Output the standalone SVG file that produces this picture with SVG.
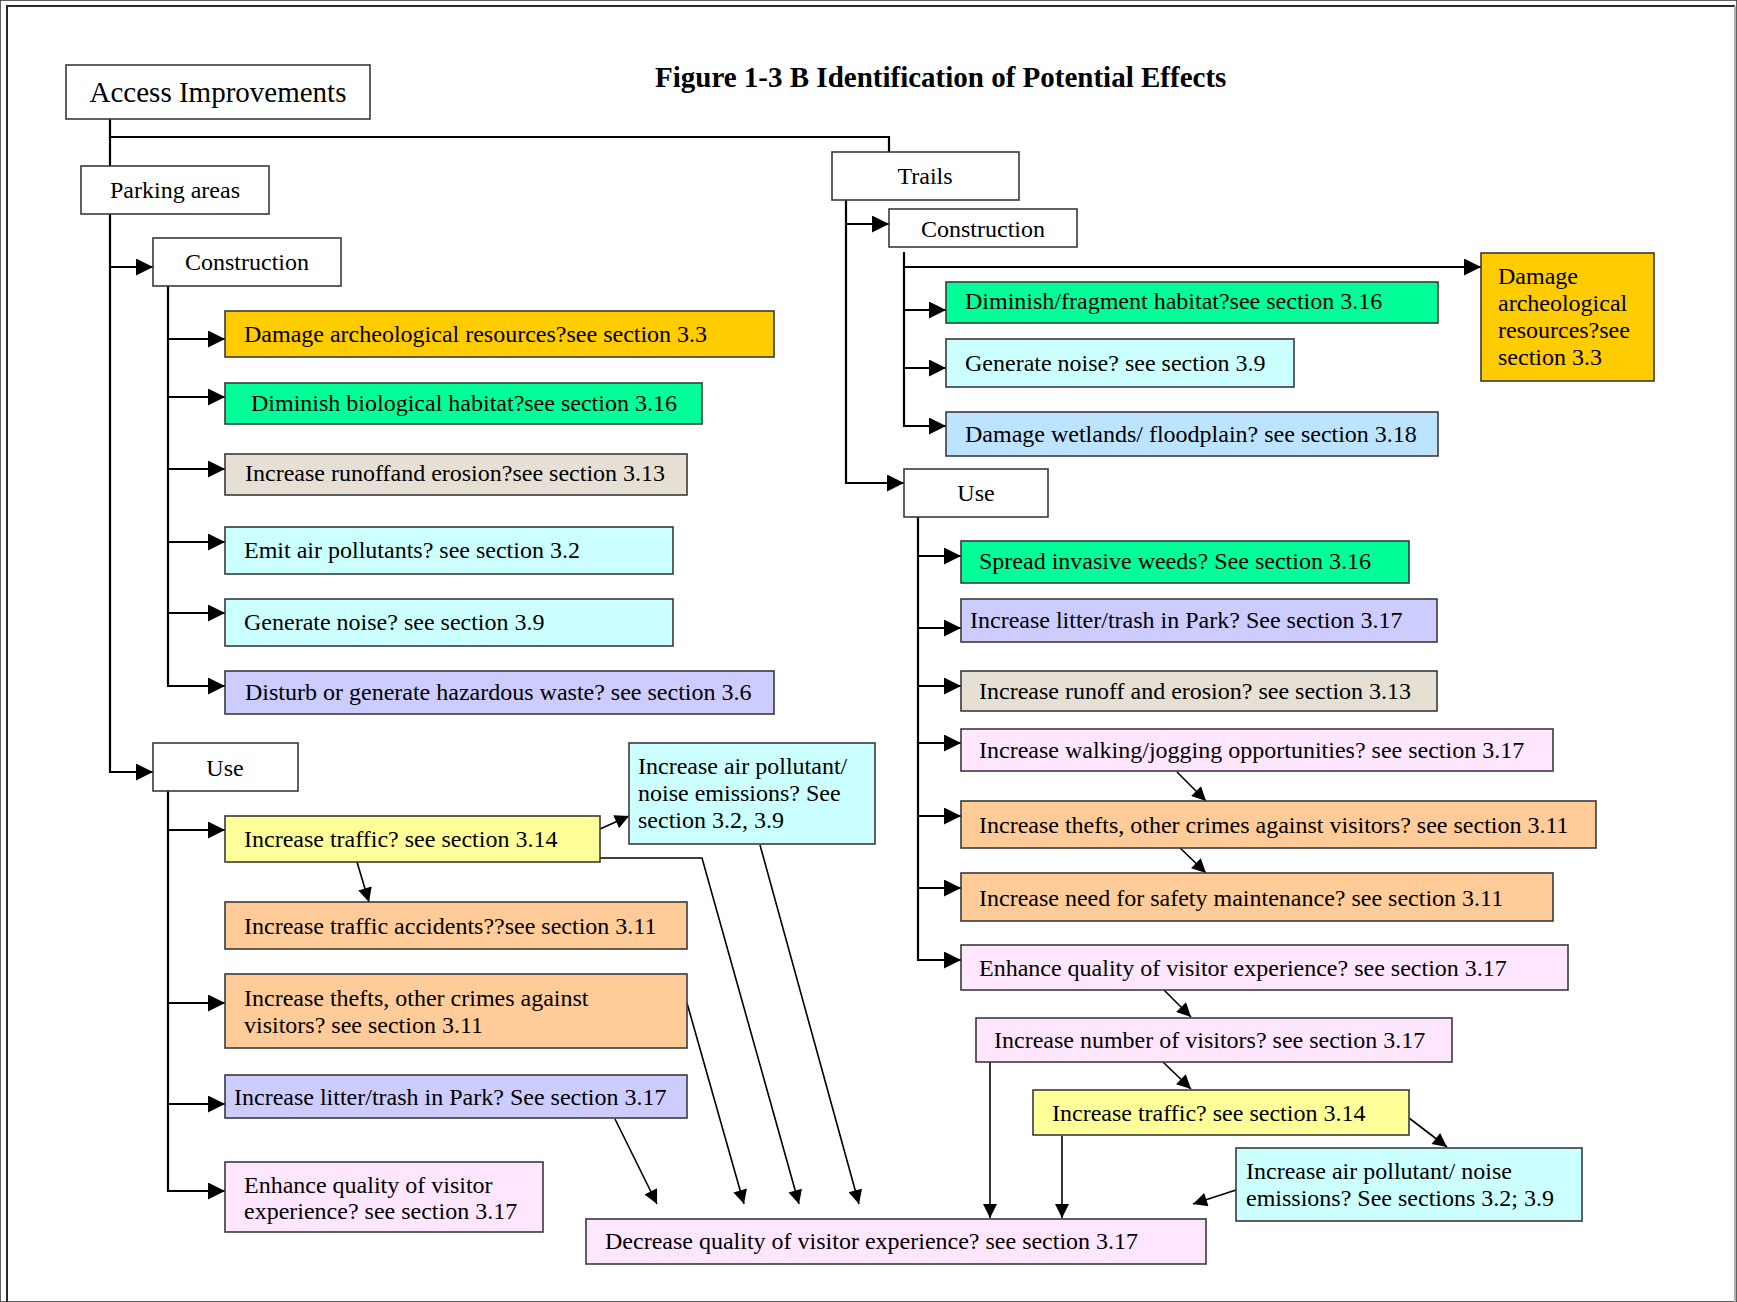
<svg xmlns="http://www.w3.org/2000/svg" width="1737" height="1302" viewBox="0 0 1737 1302">
<defs>
<style>
text{font-family:"Liberation Serif","Times New Roman",serif;font-size:24px;fill:#000}
.title{font-size:29px;font-weight:bold}
.big{font-size:29px}
.c{text-anchor:middle}
rect{stroke:#3a3a3a;stroke-width:1.6}
.w{fill:#fff}
.gold{fill:#FFCC00}
.green{fill:#00FF99}
.beige{fill:#E6DFD3}
.cyan{fill:#CCFFFF}
.lav{fill:#CCCCFF}
.blue{fill:#BDE4FF}
.yel{fill:#FFFF99}
.org{fill:#FFCC99}
.pink{fill:#FFE6FF}
.tree{fill:none;stroke:#000;stroke-width:2.2}
.thin{fill:none;stroke:#000;stroke-width:1.6}
</style>
<marker id="ah" viewBox="0 0 10 10" refX="10" refY="5" markerUnits="userSpaceOnUse" markerWidth="17" markerHeight="17" orient="auto"><path d="M0,0 L10,5 L0,10 z" fill="#000"/></marker>
<marker id="as" viewBox="0 0 10 10" refX="10" refY="5" markerUnits="userSpaceOnUse" markerWidth="16" markerHeight="14" orient="auto"><path d="M0,0 L10,5 L0,10 z" fill="#000"/></marker>
</defs>
<rect x="0" y="0" width="1737" height="1302" fill="#fff" stroke="none"/>
<path d="M7,1302 V6 H1735" fill="none" stroke="#2a2a2a" stroke-width="2"/>
<path d="M1735,6 V1302" fill="none" stroke="#b0b0b0" stroke-width="2"/>
<text class="title" x="655" y="87">Figure 1-3 B Identification of Potential Effects</text>

<g id="connectors">
<path class="tree" d="M110,119 V166"/>
<path class="tree" d="M110,137 H889 V152"/>
<path class="tree" d="M110,214 V772 H153" marker-end="url(#ah)"/>
<path class="tree" d="M110,267 H153" marker-end="url(#ah)"/>
<path class="tree" d="M168,286 V686 H225" marker-end="url(#ah)"/>
<path class="tree" d="M168,339 H225" marker-end="url(#ah)"/>
<path class="tree" d="M168,397 H225" marker-end="url(#ah)"/>
<path class="tree" d="M168,469 H225" marker-end="url(#ah)"/>
<path class="tree" d="M168,542 H225" marker-end="url(#ah)"/>
<path class="tree" d="M168,613 H225" marker-end="url(#ah)"/>
<path class="tree" d="M168,791 V1191 H225" marker-end="url(#ah)"/>
<path class="tree" d="M168,830 H225" marker-end="url(#ah)"/>
<path class="tree" d="M168,1003 H225" marker-end="url(#ah)"/>
<path class="tree" d="M168,1104 H225" marker-end="url(#ah)"/>
<path class="tree" d="M846,200 V483 H904" marker-end="url(#ah)"/>
<path class="tree" d="M846,224 H889" marker-end="url(#ah)"/>
<path class="tree" d="M904,252 V426 H946" marker-end="url(#ah)"/>
<path class="tree" d="M904,267 H1481" marker-end="url(#ah)"/>
<path class="tree" d="M904,310 H946" marker-end="url(#ah)"/>
<path class="tree" d="M904,368 H946" marker-end="url(#ah)"/>
<path class="tree" d="M918,517 V960 H961" marker-end="url(#ah)"/>
<path class="tree" d="M918,556 H961" marker-end="url(#ah)"/>
<path class="tree" d="M918,628 H961" marker-end="url(#ah)"/>
<path class="tree" d="M918,686 H961" marker-end="url(#ah)"/>
<path class="tree" d="M918,743 H961" marker-end="url(#ah)"/>
<path class="tree" d="M918,816 H961" marker-end="url(#ah)"/>
<path class="tree" d="M918,888 H961" marker-end="url(#ah)"/>
<path class="thin" d="M600,829 L629,816" marker-end="url(#as)"/>
<path class="thin" d="M357,862 L369,902" marker-end="url(#as)"/>
<path class="thin" d="M600,858 H702 L799,1204" marker-end="url(#as)"/>
<path class="thin" d="M760,845 L859,1204" marker-end="url(#as)"/>
<path class="thin" d="M687,1003 L744,1204" marker-end="url(#as)"/>
<path class="thin" d="M615,1119 L657,1204" marker-end="url(#as)"/>
<path class="thin" d="M1177,772 L1206,801" marker-end="url(#as)"/>
<path class="thin" d="M1177,845 L1206,873" marker-end="url(#as)"/>
<path class="thin" d="M1164,990 L1191,1017" marker-end="url(#as)"/>
<path class="thin" d="M1163,1062 L1191,1089" marker-end="url(#as)"/>
<path class="thin" d="M990,1062 V1218" marker-end="url(#as)"/>
<path class="thin" d="M1062,1136 V1218" marker-end="url(#as)"/>
<path class="thin" d="M1409,1118 L1447,1147" marker-end="url(#as)"/>
<path class="thin" d="M1236,1190 L1193,1204" marker-end="url(#as)"/>
</g>

<g id="access"><rect class="w" x="66" y="65" width="304" height="54"/><text class="big c" x="218" y="102">Access Improvements</text></g>
<g id="parking"><rect class="w" x="81" y="166" width="188" height="48"/><text class="c" x="175" y="198">Parking areas</text></g>
<g id="constrL"><rect class="w" x="153" y="238" width="188" height="48"/><text class="c" x="247" y="270">Construction</text></g>
<g id="archeoL"><rect class="gold" x="225" y="311" width="549" height="46"/><text x="244" y="342">Damage archeological resources?see section 3.3</text></g>
<g id="diminishL"><rect class="green" x="225" y="383" width="477" height="41"/><text x="251" y="411">Diminish biological habitat?see section 3.16</text></g>
<g id="runoffL"><rect class="beige" x="225" y="454" width="462" height="41"/><text x="245" y="481">Increase runoffand erosion?see section 3.13</text></g>
<g id="emitL"><rect class="cyan" x="225" y="527" width="448" height="47"/><text x="244" y="558">Emit air pollutants? see section 3.2</text></g>
<g id="noiseL"><rect class="cyan" x="225" y="599" width="448" height="47"/><text x="244" y="630">Generate noise? see section 3.9</text></g>
<g id="hazard"><rect class="lav" x="225" y="671" width="549" height="43"/><text x="245" y="700">Disturb or generate hazardous waste? see section 3.6</text></g>
<g id="useL"><rect class="w" x="153" y="743" width="145" height="48"/><text class="c" x="225" y="776">Use</text></g>
<g id="trafficL"><rect class="yel" x="225" y="816" width="375" height="46"/><text x="244" y="847">Increase traffic? see section 3.14</text></g>
<g id="airL"><rect class="cyan" x="629" y="743" width="246" height="101"/><text x="638" y="774">Increase air pollutant/</text><text x="638" y="801">noise emissions? See</text><text x="638" y="828">section 3.2, 3.9</text></g>
<g id="accidents"><rect class="org" x="225" y="902" width="462" height="47"/><text x="244" y="934">Increase traffic accidents??see section 3.11</text></g>
<g id="theftsL"><rect class="org" x="225" y="974" width="462" height="74"/><text x="244" y="1006">Increase thefts, other crimes against</text><text x="244" y="1033">visitors? see section 3.11</text></g>
<g id="litterL"><rect class="lav" x="225" y="1075" width="462" height="43"/><text x="234" y="1105">Increase litter/trash in Park? See section 3.17</text></g>
<g id="enhanceL"><rect class="pink" x="225" y="1162" width="318" height="70"/><text x="244" y="1193">Enhance quality of visitor</text><text x="244" y="1219">experience? see section 3.17</text></g>
<g id="decrease"><rect class="pink" x="586" y="1219" width="620" height="45"/><text x="605" y="1249">Decrease quality of visitor experience? see section 3.17</text></g>

<g id="trails"><rect class="w" x="832" y="152" width="187" height="48"/><text class="c" x="925" y="184">Trails</text></g>
<g id="constrR"><rect class="w" x="889" y="209" width="188" height="38"/><text class="c" x="983" y="237">Construction</text></g>
<g id="archeoR"><rect class="gold" x="1481" y="253" width="173" height="128"/><text x="1498" y="284">Damage</text><text x="1498" y="311">archeological</text><text x="1498" y="338">resources?see</text><text x="1498" y="365">section 3.3</text></g>
<g id="diminishR"><rect class="green" x="946" y="282" width="492" height="41"/><text x="965" y="309">Diminish/fragment habitat?see section 3.16</text></g>
<g id="noiseR"><rect class="cyan" x="946" y="339" width="348" height="48"/><text x="965" y="371">Generate noise? see section 3.9</text></g>
<g id="wetlands"><rect class="blue" x="946" y="412" width="492" height="44"/><text x="965" y="442">Damage wetlands/ floodplain? see section 3.18</text></g>
<g id="useR"><rect class="w" x="904" y="469" width="144" height="48"/><text class="c" x="976" y="501">Use</text></g>
<g id="weeds"><rect class="green" x="961" y="541" width="448" height="42"/><text x="979" y="569">Spread invasive weeds? See section 3.16</text></g>
<g id="litterR"><rect class="lav" x="961" y="599" width="476" height="43"/><text x="970" y="628">Increase litter/trash in Park? See section 3.17</text></g>
<g id="runoffR"><rect class="beige" x="961" y="671" width="476" height="40"/><text x="979" y="699">Increase runoff and erosion? see section 3.13</text></g>
<g id="walking"><rect class="pink" x="961" y="729" width="592" height="42"/><text x="979" y="758">Increase walking/jogging opportunities? see section 3.17</text></g>
<g id="theftsR"><rect class="org" x="961" y="801" width="635" height="47"/><text x="979" y="833">Increase thefts, other crimes against visitors? see section 3.11</text></g>
<g id="safety"><rect class="org" x="961" y="873" width="592" height="48"/><text x="979" y="906">Increase need for safety maintenance? see section 3.11</text></g>
<g id="enhanceR"><rect class="pink" x="961" y="945" width="607" height="45"/><text x="979" y="976">Enhance quality of visitor experience? see section 3.17</text></g>
<g id="number"><rect class="pink" x="976" y="1018" width="476" height="44"/><text x="994" y="1048">Increase number of visitors? see section 3.17</text></g>
<g id="trafficR"><rect class="yel" x="1033" y="1090" width="376" height="45"/><text x="1052" y="1121">Increase traffic? see section 3.14</text></g>
<g id="airR"><rect class="cyan" x="1236" y="1148" width="346" height="73"/><text x="1246" y="1179">Increase air pollutant/ noise</text><text x="1246" y="1206">emissions? See sections 3.2; 3.9</text></g>
</svg>
